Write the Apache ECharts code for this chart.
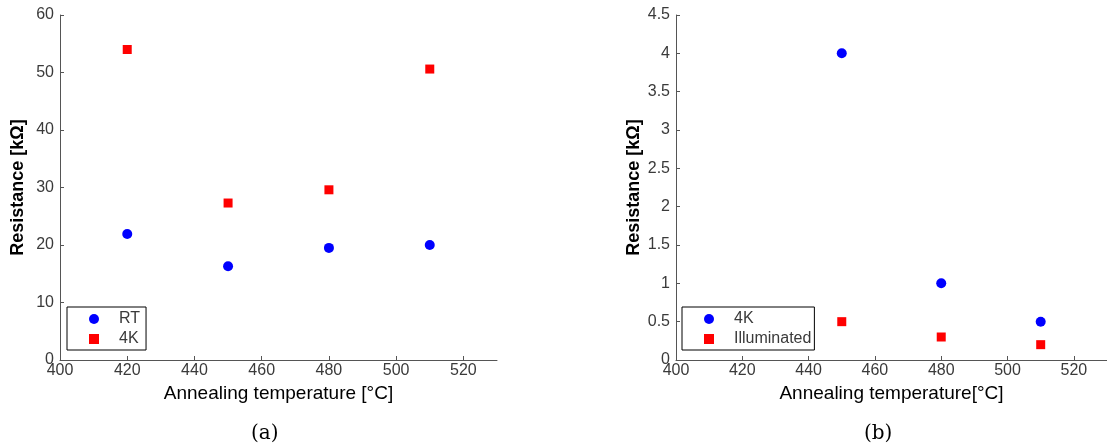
<!DOCTYPE html>
<html>
<head>
<meta charset="utf-8">
<script src="https://cdn.jsdelivr.net/npm/echarts@6/dist/echarts.min.js"></script>
<style>
  html, body { margin: 0; padding: 0; background: #fff; }
  #chart { width: 1107px; height: 446px; }
</style>
</head>
<body>
<div id="chart"></div>
<script>
// (a) resistance vs annealing temperature
const tempsA = [420, 450, 480, 510]
const rtA = [21.9, 16.3, 19.5, 20.0]
const k4A = [54.0, 27.3, 29.6, 50.6]

// (b) 4K dark vs illuminated
const tempsB = [450, 480, 510]
const k4B = [4.0, 1.0, 0.5]
const illumB = [0.5, 0.3, 0.2]

const pairs = (xs, ys) => xs.map((x, i) => [x, ys[i]])

const tickFont = { fontFamily: 'Liberation Sans', fontSize: 16, color: '#3a3a3a' }
const nameFont = { fontFamily: 'Liberation Sans', fontSize: 19, color: '#000' }
const axisLine = { lineStyle: { color: '#555', width: 1 } }

function xAx (idx, name) {
  return {
    type: 'value', gridIndex: idx, min: 400, max: 530, interval: 20,
    name: name, nameLocation: 'middle', nameGap: 18, nameTextStyle: nameFont,
    axisLine: axisLine,
    axisTick: { inside: true, length: 4, lineStyle: { color: '#555' } },
    axisLabel: Object.assign({ margin: 3, showMaxLabel: false }, tickFont),
    splitLine: { show: false }
  }
}

function yAx (idx, max, interval) {
  return {
    type: 'value', gridIndex: idx, min: 0, max: max, interval: interval,
    name: 'Resistance [kΩ]', nameLocation: 'middle', nameGap: 33,
    nameTextStyle: Object.assign({}, nameFont, { fontWeight: 'bold', fontSize: 18 }),
    axisLine: Object.assign({ show: true }, axisLine),
    axisTick: { show: true, inside: true, length: 4, lineStyle: { color: '#555' } },
    axisLabel: Object.assign({ margin: 6 }, tickFont),
    splitLine: { show: false }
  }
}

const legendBase = {
  orient: 'vertical', borderColor: '#000', borderWidth: 1, borderRadius: 0,
  padding: [4, 6, 3, 22], itemGap: 4, itemWidth: 10, itemHeight: 10,
  textStyle: { fontFamily: 'Liberation Sans', fontSize: 16, color: '#3a3a3a', padding: [0, 0, 0, 15] }
}

const myChart = echarts.init(document.getElementById('chart'))
myChart.setOption({
  animation: false,
  title: [
    { text: '(a)', left: 246, top: 419, textStyle: { fontFamily: 'DejaVu Serif', fontSize: 20, fontWeight: 'normal', color: '#000' } },
    { text: '(b)', left: 859, top: 419, textStyle: { fontFamily: 'DejaVu Serif', fontSize: 20, fontWeight: 'normal', color: '#000' } }
  ],
  grid: [
    { left: 60, top: 15, width: 437, height: 345 },
    { left: 676, top: 15, width: 434, height: 345 }
  ],
  xAxis: [xAx(0, 'Annealing temperature [°C]'), xAx(1, 'Annealing temperature[°C]')],
  yAxis: [yAx(0, 60, 10), yAx(1, 4.5, 0.5)],
  legend: [
    Object.assign({}, legendBase, { left: 67, top: 307, data: [{ name: 'RT', icon: 'circle' }, { name: '4K', icon: 'rect' }] }),
    Object.assign({}, legendBase, { left: 682, top: 307, padding: [4, 3, 3, 22], data: [{ name: '4K ', icon: 'circle' }, { name: 'Illuminated', icon: 'rect' }] })
  ],
  series: [
    { name: 'RT', type: 'scatter', xAxisIndex: 0, yAxisIndex: 0, symbol: 'circle', symbolSize: 10, itemStyle: { color: '#0000ff', opacity: 1 }, data: pairs(tempsA, rtA) },
    { name: '4K', type: 'scatter', xAxisIndex: 0, yAxisIndex: 0, symbol: 'rect', symbolSize: 9, itemStyle: { color: '#ff0000', opacity: 1 }, data: pairs(tempsA, k4A) },
    { name: '4K ', type: 'scatter', xAxisIndex: 1, yAxisIndex: 1, symbol: 'circle', symbolSize: 10, itemStyle: { color: '#0000ff', opacity: 1 }, data: pairs(tempsB, k4B) },
    { name: 'Illuminated', type: 'scatter', xAxisIndex: 1, yAxisIndex: 1, symbol: 'rect', symbolSize: 9, itemStyle: { color: '#ff0000', opacity: 1 }, data: pairs(tempsB, illumB) }
  ]
})
</script>
</body>
</html>
